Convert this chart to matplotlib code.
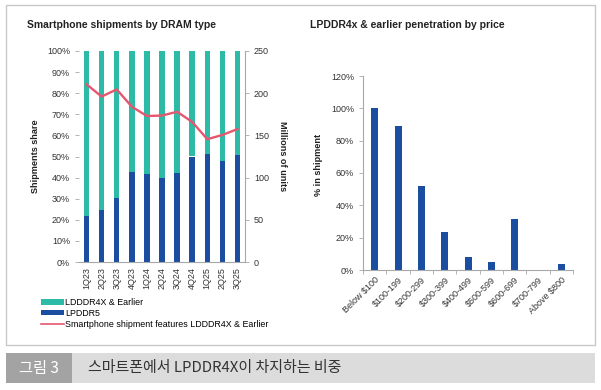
import matplotlib
matplotlib.use("Agg")
import matplotlib.pyplot as plt
from matplotlib.patches import Rectangle, Patch
from matplotlib.lines import Line2D
from matplotlib.ticker import PercentFormatter

plt.rcParams['font.family'] = ['Liberation Sans', 'DejaVu Sans']

# Data
quarters = ["1Q23", "2Q23", "3Q23", "4Q23", "1Q24", "2Q24", "3Q24", "4Q24", "1Q25", "2Q25", "3Q25"]
lpddr5_share = [22, 24.5, 30.5, 42.5, 41.5, 40, 42, 50, 51, 48, 50.5]
lpddr4x_share = [100 - v for v in lpddr5_share]
shipments_4x = [210.5, 196, 204.5, 184, 173, 173.5, 178, 166, 145.5, 150.5, 157.5]

price_bands = ["Below $100", "$100-199", "$200-299", "$300-399", "$400-499",
               "$500-599", "$600-699", "$700-799", "Above $800"]
penetration = [100, 89, 52, 23.5, 8, 5, 31.5, 0, 3.5]

TEAL = "#2dbba8"
BLUE = "#1b4ea0"
PINK = "#e5566f"
GRAY_TXT = "#333333"
SPINE = "#a8a8a8"
TICK_FS = 6.5

W, H = 601, 390
fig = plt.figure(figsize=(W / 100, H / 100), dpi=100)

def ax_px(l, t, r, b):
    return fig.add_axes([l / W, 1 - b / H, (r - l) / W, (b - t) / H])

# Outer frame and caption
fig.patches.append(Rectangle((6 / W, 1 - 345 / H), 589 / W, 340 / H, transform=fig.transFigure,
                             fill=False, edgecolor="#c8c8c8", lw=1.0))
fig.patches.append(Rectangle((6 / W, 1 - 383 / H), 66 / W, 30 / H, transform=fig.transFigure,
                             facecolor="#a3a3a3", edgecolor="none"))
fig.patches.append(Rectangle((72 / W, 1 - 383 / H), 523 / W, 30 / H, transform=fig.transFigure,
                             facecolor="#dcdcdc", edgecolor="none"))
fig.text(39 / W, 1 - 368 / H, "그림 3", color="white", fontsize=11, ha="center", va="center",
         family=["Noto Sans CJK KR", "DejaVu Sans"])
fig.text(88 / W, 1 - 368 / H, "스마트폰에서 LPDDR4X이 차지하는 비중", color=GRAY_TXT, fontsize=10.8,
         ha="left", va="center", family=["Noto Sans CJK KR", "DejaVu Sans"])

# Left chart
ax = ax_px(79, 51, 245, 262)
x = range(len(quarters))
ax.bar(x, lpddr5_share, width=0.36, color=BLUE, zorder=2)
ax.bar(x, lpddr4x_share, bottom=lpddr5_share, width=0.36, color=TEAL, zorder=2)
ax.set_xlim(-0.5, len(quarters) - 0.5)
ax.set_ylim(0, 100)
ax.set_yticks(range(0, 101, 10))
ax.yaxis.set_major_formatter(PercentFormatter(decimals=0))
ax.set_xticks(list(x))
ax.set_xticklabels(quarters, rotation=90)
for s in ["top", "right", "left"]:
    ax.spines[s].set_visible(False)
ax.spines["bottom"].set_color(SPINE)
ax.tick_params(axis="y", labelsize=TICK_FS, colors=SPINE, labelcolor=GRAY_TXT, length=3, width=0.6)
ax.tick_params(axis="x", labelsize=TICK_FS, colors=SPINE, labelcolor=GRAY_TXT, length=0)
ax.set_ylabel("Shipments share", fontsize=6.6, fontweight="bold", color="#222222", labelpad=5)

ax2 = ax.twinx()
ax2.plot(list(x), shipments_4x, color=PINK, lw=1.7, zorder=3)
ax2.set_ylim(0, 250)
ax2.set_yticks(range(0, 251, 50))
for s in ["top", "left", "bottom"]:
    ax2.spines[s].set_visible(False)
ax2.spines["right"].set_color(SPINE)
ax2.tick_params(axis="y", labelsize=TICK_FS, colors=SPINE, labelcolor=GRAY_TXT, length=3, width=0.6)
ax2.set_ylabel("Millions of units", fontsize=6.6, fontweight="bold", color="#222222",
               rotation=270, labelpad=13)

fig.text(27 / W, 1 - 25 / H, "Smartphone shipments by DRAM type", fontsize=7.5,
         fontweight="bold", color="#222222", ha="left", va="center")

handles = [Patch(facecolor=TEAL, edgecolor="none"),
           Patch(facecolor=BLUE, edgecolor="none"),
           Line2D([0], [0], color=PINK, lw=1.2)]
labels = ["LDDDR4X & Earlier", "LPDDR5", "Smartphone shipment features LDDDR4X & Earlier"]
fig.legend(handles, labels, loc="upper left", bbox_to_anchor=(41 / W, 1 - 298 / H),
           frameon=False, fontsize=6.4, handlelength=2.6, handleheight=0.55,
           handletextpad=0.15, labelspacing=0.2, borderpad=0, borderaxespad=0)

# Right chart
axr = ax_px(363, 76, 573, 270)
xr = range(len(price_bands))
axr.bar(xr, penetration, width=0.3, color=BLUE, zorder=2)
axr.set_xlim(-0.5, len(price_bands) - 0.5)
axr.set_ylim(0, 120)
axr.set_yticks(range(0, 121, 20))
axr.yaxis.set_major_formatter(PercentFormatter(decimals=0))
axr.set_xticks(list(xr))
axr.set_xticklabels(price_bands, rotation=45, ha="right", rotation_mode="anchor")
axr.set_xticks([i + 0.5 for i in range(-1, len(price_bands))], minor=True)
for s in ["top", "right"]:
    axr.spines[s].set_visible(False)
axr.spines["left"].set_color(SPINE)
axr.spines["bottom"].set_color(SPINE)
axr.tick_params(axis="y", labelsize=TICK_FS, colors=SPINE, labelcolor=GRAY_TXT, length=3, width=0.6)
axr.tick_params(axis="x", which="major", labelsize=TICK_FS, labelcolor=GRAY_TXT, length=0, pad=4)
axr.tick_params(axis="x", which="minor", colors=SPINE, length=3, width=0.6)
axr.set_ylabel("% in shipment", fontsize=6.6, fontweight="bold", color="#222222", labelpad=3)
axr.yaxis.set_label_coords(-0.19, 0.54)

fig.text(310 / W, 1 - 25 / H, "LPDDR4x & earlier penetration by price", fontsize=7.5,
         fontweight="bold", color="#222222", ha="left", va="center")

fig.savefig("out.png", dpi=100)
